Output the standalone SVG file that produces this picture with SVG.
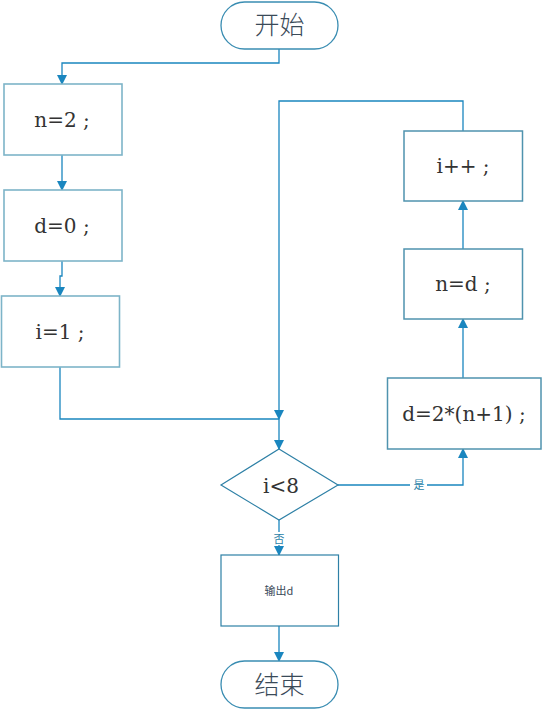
<svg xmlns="http://www.w3.org/2000/svg" width="544" height="711" viewBox="0 0 544 711">
<defs>
<marker id="ah" markerWidth="10" markerHeight="10" refX="9" refY="5" orient="auto" markerUnits="userSpaceOnUse">
<path d="M0,0 L10,5 L0,10 Z" fill="#1a86bf"/>
</marker>
<style>
.term{fill:#fff;stroke:#3a8db2;stroke-width:1.3}
.boxl{fill:#fff;stroke:#7db4c8;stroke-width:1.6}
.boxr{fill:#fff;stroke:#4f93ae;stroke-width:1.5}
.boxd{fill:#fff;stroke:#2e80a6;stroke-width:1.2}
.conn{fill:none;stroke:#1a86bf;stroke-width:1.3}
.t{font-family:"DejaVu Serif","Liberation Serif",serif;font-size:20px;fill:#333;text-anchor:middle}
.cj{font-family:"Noto Sans CJK SC",sans-serif;font-weight:300;fill:#3a4a58;text-anchor:middle}
.lbl{font-family:"Noto Sans CJK SC",sans-serif;font-size:11px;fill:#2a7fa8;text-anchor:middle}
</style>
</defs>
<rect width="544" height="711" fill="#fff"/>
<g id="connectors">
<path class="conn" d="M279,49 V63 H62 V84" marker-end="url(#ah)"/>
<path class="conn" d="M62,155 V190" marker-end="url(#ah)"/>
<path class="conn" d="M62,261 V276 H60 V296" marker-end="url(#ah)"/>
<path class="conn" d="M60,367 V419 H279"/>
<path class="conn" d="M463,131 V101 H279 V419" marker-end="url(#ah)"/>
<path class="conn" d="M279,419 V449" marker-end="url(#ah)"/>
<path class="conn" d="M338,485 H463 V449" marker-end="url(#ah)"/>
<rect x="410" y="478" width="17" height="13" fill="#fff"/>
<text class="lbl" x="419" y="489">是</text>
<path class="conn" d="M279,520 V555" marker-end="url(#ah)"/>
<rect x="272" y="532" width="14" height="13" fill="#fff"/>
<text class="lbl" x="279" y="543">否</text>
<path class="conn" d="M463,378 V319" marker-end="url(#ah)"/>
<path class="conn" d="M463,249 V201" marker-end="url(#ah)"/>
<path class="conn" d="M279,626 V661" marker-end="url(#ah)"/>
</g>
<g id="start">
<rect class="term" x="221" y="2" width="117" height="47" rx="23.5"/>
<text class="cj" x="279.5" y="34" font-size="25">开始</text>
</g>
<g id="n2">
<rect class="boxl" x="4" y="84" width="118" height="71"/>
<text class="t" x="62" y="127">n=2 ;</text>
</g>
<g id="d0">
<rect class="boxl" x="4" y="190" width="118" height="71"/>
<text class="t" x="62" y="233">d=0 ;</text>
</g>
<g id="i1">
<rect class="boxl" x="1.5" y="296" width="118" height="71"/>
<text class="t" x="60" y="339">i=1 ;</text>
</g>
<g id="cond">
<polygon class="boxd" points="279,449 338,485 279,520 221,485"/>
<text class="t" x="281" y="493" font-size="23">i&lt;8</text>
</g>
<g id="out">
<rect class="boxd" x="221" y="555" width="117.5" height="71"/>
<text class="cj" x="279" y="595" font-size="11" style="font-weight:400">输出d</text>
</g>
<g id="end">
<rect class="term" x="221" y="661" width="117" height="47" rx="23.5"/>
<text class="cj" x="279.5" y="694" font-size="25">结束</text>
</g>
<g id="calc">
<rect class="boxr" x="387.5" y="378" width="153.5" height="71"/>
<text class="t" x="464" y="421">d=2*(n+1) ;</text>
</g>
<g id="nd">
<rect class="boxr" x="404" y="249" width="118.5" height="70"/>
<text class="t" x="463" y="291">n=d ;</text>
</g>
<g id="iinc">
<rect class="boxr" x="404" y="131" width="118.5" height="70"/>
<text class="t" x="463" y="173">i++ ;</text>
</g>
</svg>
